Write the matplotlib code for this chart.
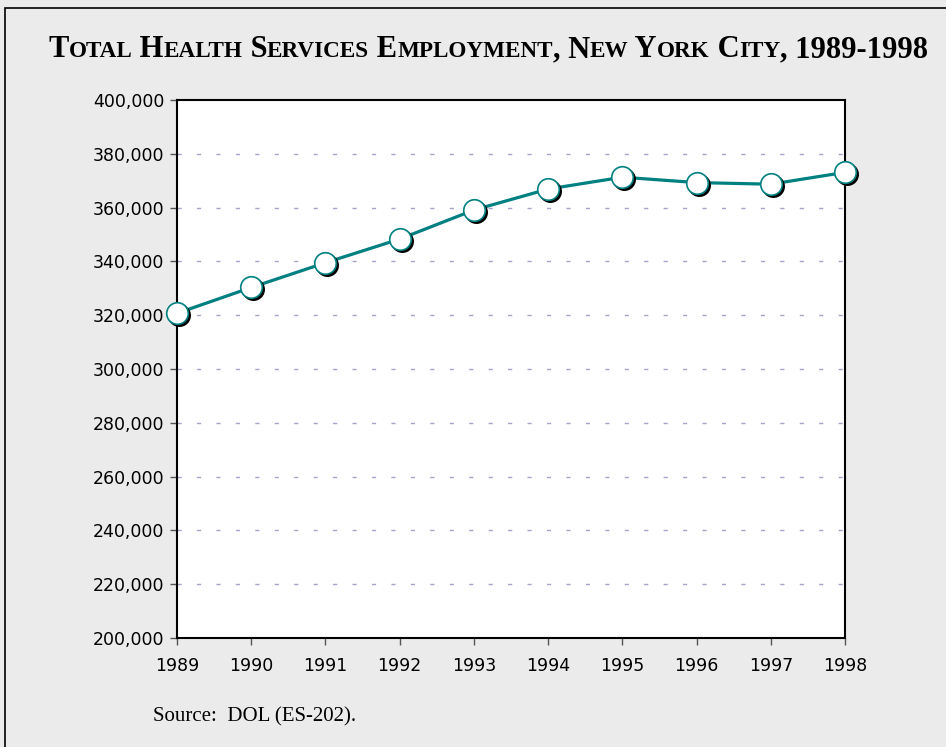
import matplotlib.pyplot as plt
import matplotlib.transforms as mtransforms
from matplotlib.patches import Rectangle

years = [1989, 1990, 1991, 1992, 1993, 1994, 1995, 1996, 1997, 1998]
employment = [320700, 330300, 339500, 348300, 359100, 366900, 371300, 369300, 368700, 373100]
yticks = list(range(200000, 400001, 20000))

title_parts = [("T", 1), ("OTAL", 0), (" H", 1), ("EALTH", 0), (" S", 1), ("ERVICES", 0),
               (" E", 1), ("MPLOYMENT", 0), (", N", 1), ("EW", 0), (" Y", 1), ("ORK", 0),
               (" C", 1), ("ITY", 0), (", 1989-1998", 1)]

W, H = 946, 747
fig = plt.figure(figsize=(W / 100, H / 100), dpi=100)
fig.patch.set_facecolor('#EBEBEB')
fig.patches.append(Rectangle((5 / W, -0.01), 1.02, 1 - 8 / H + 0.01, transform=fig.transFigure,
                             fill=False, edgecolor='black', linewidth=1.2))

ax = fig.add_axes([177 / W, 1 - 638 / H, 668 / W, 538 / H])
ax.set_facecolor('white')
for s in ax.spines.values():
    s.set_color('black')
    s.set_linewidth(1.5)

ax.set_xlim(1989, 1998)
ax.set_ylim(200000, 400000)
ax.set_xticks(years)
ax.set_yticks(yticks)
ax.set_yticklabels([f'{v:,}' for v in yticks])
ax.tick_params(labelsize=12.5, length=5, width=1, color='#555555', pad=4)
for lab in ax.get_xticklabels():
    lab.set_y(-0.012)

for v in yticks[1:-1]:
    ax.axhline(v, color='#A9A2C8', lw=1, dashes=(3, 11), zorder=1)

teal = '#008080'
ax.plot(years, employment, color=teal, lw=2.3, zorder=3, clip_on=False)
shadow = mtransforms.offset_copy(ax.transData, fig=fig, x=2, y=-2, units='dots')
ax.plot(years, employment, 'o', ms=15.5, color='black', transform=shadow, zorder=4, clip_on=False)
ax.plot(years, employment, 'o', ms=15.5, mfc='white', mec=teal, mew=1.2, zorder=5, clip_on=False)

# small-caps title
renderer = fig.canvas.get_renderer()
x = 48
base = 1 - 57 / H
for txt, big in title_parts:
    t = fig.text(x / W, base, txt, fontsize=22 if big else 16.7, fontweight='bold',
                 family='Liberation Serif', va='baseline', ha='left')
    x += t.get_window_extent(renderer).width

fig.text(153 / W, 1 - 721 / H, 'Source:  DOL (ES-202).', fontsize=15,
         family='Liberation Serif', va='baseline')

fig.savefig('out.png', dpi=100, facecolor=fig.get_facecolor())
